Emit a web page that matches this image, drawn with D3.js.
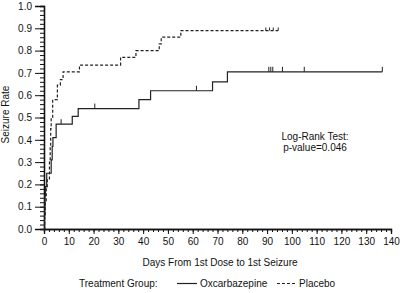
<!DOCTYPE html>
<meta charset="utf-8">
<script src="https://d3js.org/d3.v7.min.js"></script>
<style>
  body { margin: 0; background: #fff; }
  text { font-family: "Liberation Sans", Arial, sans-serif; font-size: 10px; fill: #111; }
</style>
<div id="chart"></div>
<script>
// Oxcarbazepine (solid) step curve
var oxcDays = [0, 0.2, 0.3, 0.4, 0.6, 1.1, 2.9, 3.3, 3.6, 4.9, 11.4, 13.8, 38.3, 43, 68, 74, 136.5];
var oxcRate = [0, 0.06, 0.10, 0.15, 0.19, 0.25, 0.31, 0.37, 0.41, 0.47, 0.505, 0.54, 0.58, 0.62, 0.66, 0.705, 0.705];
var oxcCensor = [6.9, 20.5, 61.5, 90.7, 91.5, 92.3, 96.2, 105, 136.5];

// Placebo (dashed) step curve
var plaDays = [0, 0.3, 0.5, 0.9, 1.3, 2.2, 2.5, 2.7, 2.9, 3.5, 5.4, 6.6, 7.7, 14.3, 30.9, 37.1, 46.5, 47.3, 55.2, 94.5];
var plaRate = [0, 0.06, 0.12, 0.19, 0.22, 0.30, 0.37, 0.45, 0.50, 0.58, 0.645, 0.67, 0.705, 0.735, 0.77, 0.80, 0.83, 0.86, 0.89, 0.89];
var plaCensor = [89.5, 91, 92.5, 94.5];

var xTicks = [0, 10, 20, 30, 40, 50, 60, 70, 80, 90, 100, 110, 120, 130, 140];
var yTicks = [0, 0.1, 0.2, 0.3, 0.4, 0.5, 0.6, 0.7, 0.8, 0.9, 1.0];

var W = 400, H = 293;
var margin = {top: 6, right: 9, bottom: 64, left: 44},
    width = W - margin.left - margin.right,
    height = H - margin.top - margin.bottom;

var svg = d3.select("#chart").append("svg")
    .attr("width", W).attr("height", H)
  .append("g")
    .attr("transform", "translate(" + margin.left + "," + margin.top + ")");

var x = d3.scaleLinear().domain([0, 140]).range([0, width]);
var y = d3.scaleLinear().domain([0, 1]).range([height, 0]);

// minor ticks
var xAxisMinor = svg.append("g")
  .attr("transform", "translate(0," + height + ")")
  .call(d3.axisBottom(x).tickValues(d3.range(0, 141, 2)).tickSize(3).tickFormat(""));
var yAxisMinor = svg.append("g")
  .call(d3.axisLeft(y).tickValues(d3.range(0, 1.001, 0.02)).tickSize(4).tickFormat(""));

// major ticks
var xAxis = svg.append("g")
  .attr("transform", "translate(0," + height + ")")
  .call(d3.axisBottom(x).tickValues(xTicks).tickSize(5).tickPadding(4).tickFormat(d3.format("d")));
var yAxis = svg.append("g")
  .call(d3.axisLeft(y).tickValues(yTicks).tickSize(9).tickPadding(3).tickFormat(d3.format(".1f")));

svg.selectAll(".domain").attr("stroke", "#111").attr("stroke-width", 1.3);
svg.selectAll(".tick line").attr("stroke", "#111");
svg.selectAll(".tick text").style("font-size", "10px").attr("fill", "#111");

var line = d3.line()
  .curve(d3.curveStepAfter)
  .x(function(d) { return x(d[0]); })
  .y(function(d) { return y(d[1]); });

function pairs(days, rates) {
  return days.map(function(d, i) { return [d, rates[i]]; });
}
function rateAt(days, rates, t) {
  var r = 0;
  for (var i = 0; i < days.length; i++) if (days[i] <= t) r = rates[i];
  return r;
}

svg.append("path")
  .datum(pairs(oxcDays, oxcRate))
  .attr("fill", "none").attr("stroke", "#222").attr("stroke-width", 1.2)
  .attr("d", line);

svg.append("path")
  .datum(pairs(plaDays, plaRate))
  .attr("fill", "none").attr("stroke", "#222").attr("stroke-width", 1.2)
  .attr("stroke-dasharray", "3,2")
  .attr("d", line);

// censor marks
svg.selectAll(".cens-oxc").data(oxcCensor).enter().append("line")
  .attr("x1", function(d) { return x(d); }).attr("x2", function(d) { return x(d); })
  .attr("y1", function(d) { return y(rateAt(oxcDays, oxcRate, d)) - 5; })
  .attr("y2", function(d) { return y(rateAt(oxcDays, oxcRate, d)); })
  .attr("stroke", "#222").attr("stroke-width", 1);

svg.selectAll(".cens-pla").data(plaCensor).enter().append("line")
  .attr("x1", function(d) { return x(d); }).attr("x2", function(d) { return x(d); })
  .attr("y1", function(d) { return y(rateAt(plaDays, plaRate, d)) - 3; })
  .attr("y2", function(d) { return y(rateAt(plaDays, plaRate, d)); })
  .attr("stroke", "#222").attr("stroke-width", 1);

// axis titles
svg.append("text")
  .attr("transform", "translate(-35," + (height / 2 - 3) + ") rotate(-90)")
  .attr("text-anchor", "middle")
  .text("Seizure Rate");

svg.append("text")
  .attr("x", 176).attr("y", height + 37)
  .attr("text-anchor", "middle")
  .text("Days From 1st Dose to 1st Seizure");

// log-rank annotation
svg.append("text").attr("x", 271).attr("y", 134).attr("text-anchor", "middle").text("Log-Rank Test:");
svg.append("text").attr("x", 271).attr("y", 145).attr("text-anchor", "middle").text("p-value=0.046");

// legend
var leg = svg.append("g").attr("transform", "translate(0," + (height + 58) + ")");
leg.append("text").attr("x", 35).attr("y", 0).text("Treatment Group:");
leg.append("line").attr("x1", 133).attr("x2", 153).attr("y1", -3.5).attr("y2", -3.5)
  .attr("stroke", "#222").attr("stroke-width", 1.2);
leg.append("text").attr("x", 156).attr("y", 0).text("Oxcarbazepine");
leg.append("line").attr("x1", 233).attr("x2", 253).attr("y1", -3.5).attr("y2", -3.5)
  .attr("stroke", "#222").attr("stroke-width", 1.2).attr("stroke-dasharray", "3,2");
leg.append("text").attr("x", 255).attr("y", 0).text("Placebo");
</script>
